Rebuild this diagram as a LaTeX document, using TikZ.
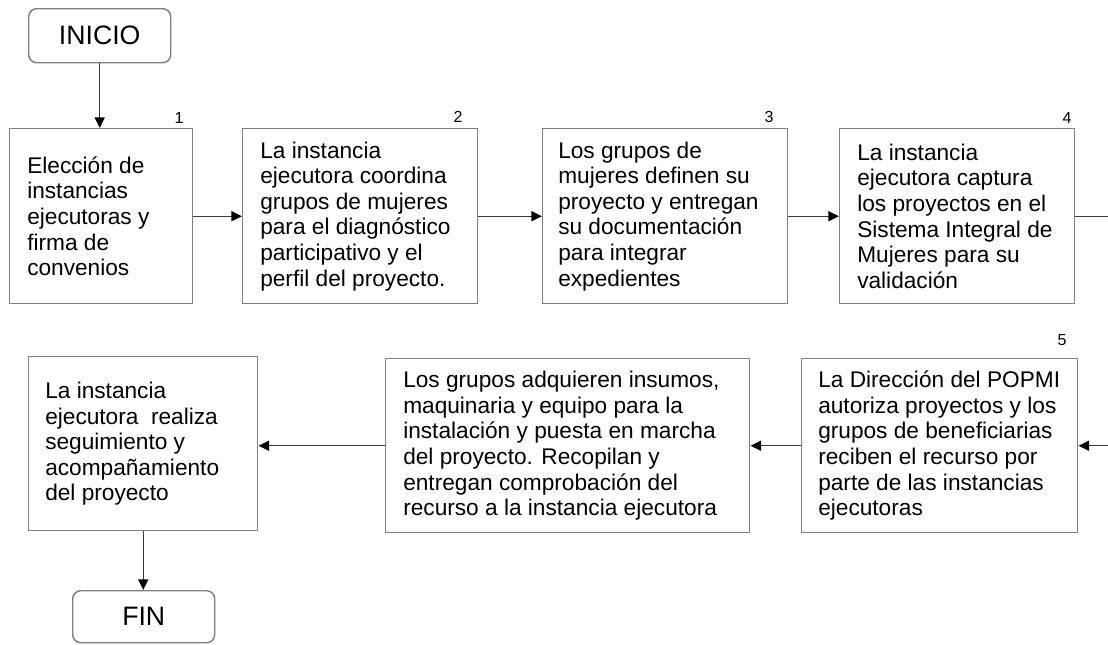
\documentclass[tikz,border=0pt]{standalone}
\usepackage{fontspec}
\setmainfont{Liberation Sans}
\usetikzlibrary{arrows.meta}
\definecolor{boxgray}{HTML}{808080}
\definecolor{linegray}{HTML}{3A3A3A}
\begin{document}
\begin{tikzpicture}[x=0.75pt,y=-0.75pt,
  box/.style={draw=boxgray, line width=1.1pt, inner sep=0pt, anchor=north west},
  term/.style={box, rounded corners=6pt, font=\fontsize{20}{24}\selectfont},
  txt/.style={anchor=west, align=left, inner sep=0pt, font=\fontsize{17}{19.2}\selectfont},
  num/.style={inner sep=0pt, font=\fontsize{12}{14}\selectfont},
  conn/.style={draw=linegray, line width=1.1pt, -{Triangle[length=8pt,width=7.5pt,color=black]}},
  plain/.style={draw=linegray, line width=1.1pt}
]
\useasboundingbox (0,0) rectangle (1108,644);

% terminals
\node[term, minimum width=106.5pt, minimum height=40.5pt] (inicio) at (28,8) {INICIO};
\node[term, minimum width=106.5pt, minimum height=39pt] (fin) at (72,590) {FIN};

% boxes top row
\node[box, minimum width=137.25pt, minimum height=131.25pt] (b1) at (9,128) {};
\node[box, minimum width=176.25pt, minimum height=131.25pt] (b2) at (242,128) {};
\node[box, minimum width=183.75pt, minimum height=131.25pt] (b3) at (542,128) {};
\node[box, minimum width=176.25pt, minimum height=131.25pt] (b4) at (839,128) {};
% boxes bottom row
\node[box, minimum width=207pt, minimum height=130.5pt] (b5) at (801,358) {};
\node[box, minimum width=273pt, minimum height=130.5pt] (b6) at (385,358) {};
\node[box, minimum width=171.75pt, minimum height=130.5pt] (b7) at (28,356) {};

% texts
\node[txt] (t1) at ([xshift=13.5pt]b1.west) {Elección de\\instancias\\ejecutoras y\\firma de\\convenios};
\node[txt] (t2) at ([xshift=13.5pt]b2.west) {La instancia\\ejecutora coordina\\grupos de mujeres\\para el diagnóstico\\participativo y el\\perfil del proyecto.};
\node[txt] (t3) at ([xshift=12pt]b3.west) {Los grupos de\\mujeres definen su\\proyecto y entregan\\su documentación\\para integrar\\expedientes};
\node[txt] (t4) at ([xshift=13.5pt]b4.west) {La instancia\\ejecutora captura\\los proyectos en el\\Sistema Integral de\\Mujeres para su\\validación};
\node[txt] (t5) at ([xshift=12.75pt]b5.west) {La Dirección del POPMI\\autoriza proyectos y los\\grupos de beneficiarias\\reciben el recurso por\\parte de las instancias\\ejecutoras};
\node[txt] (t6) at ([xshift=13.5pt]b6.west) {Los grupos adquieren insumos,\\maquinaria y equipo para la\\instalación y puesta en marcha\\del proyecto. Recopilan y\\entregan comprobación del\\recurso a la instancia ejecutora};
\node[txt] (t7) at ([xshift=12.75pt]b7.west) {La instancia\\ejecutora~ realiza\\seguimiento y\\acompañamiento\\del proyecto};

% numbers
\node[num] (n1) at (179,118) {1};
\node[num] (n2) at (458,117) {2};
\node[num] (n3) at (769,117) {3};
\node[num] (n4) at (1067,118) {4};
\node[num] (n5) at (1062,340) {5};

% edge coordinates (at the picture's right edge)
\path (b4.east) ++(40,0) coordinate (e1);
\path (b5.east) ++(40,0) coordinate (e2);

% connectors
\draw[conn] (inicio.south) -- (inicio.south |- b1.north);
\draw[conn] (b1.east) -- (b2.west);
\draw[conn] (b2.east) -- (b3.west);
\draw[conn] (b3.east) -- (b4.west);
\draw[plain] (b4.east) -- (e1);
\draw[conn] (e2) -- (b5.east);
\draw[conn] (b5.west) -- (b6.east);
\draw[conn] (b6.west) -- (b6.west -| b7.east);
\draw[conn] (b7.south) -- (b7.south |- fin.north);
\end{tikzpicture}
\end{document}
